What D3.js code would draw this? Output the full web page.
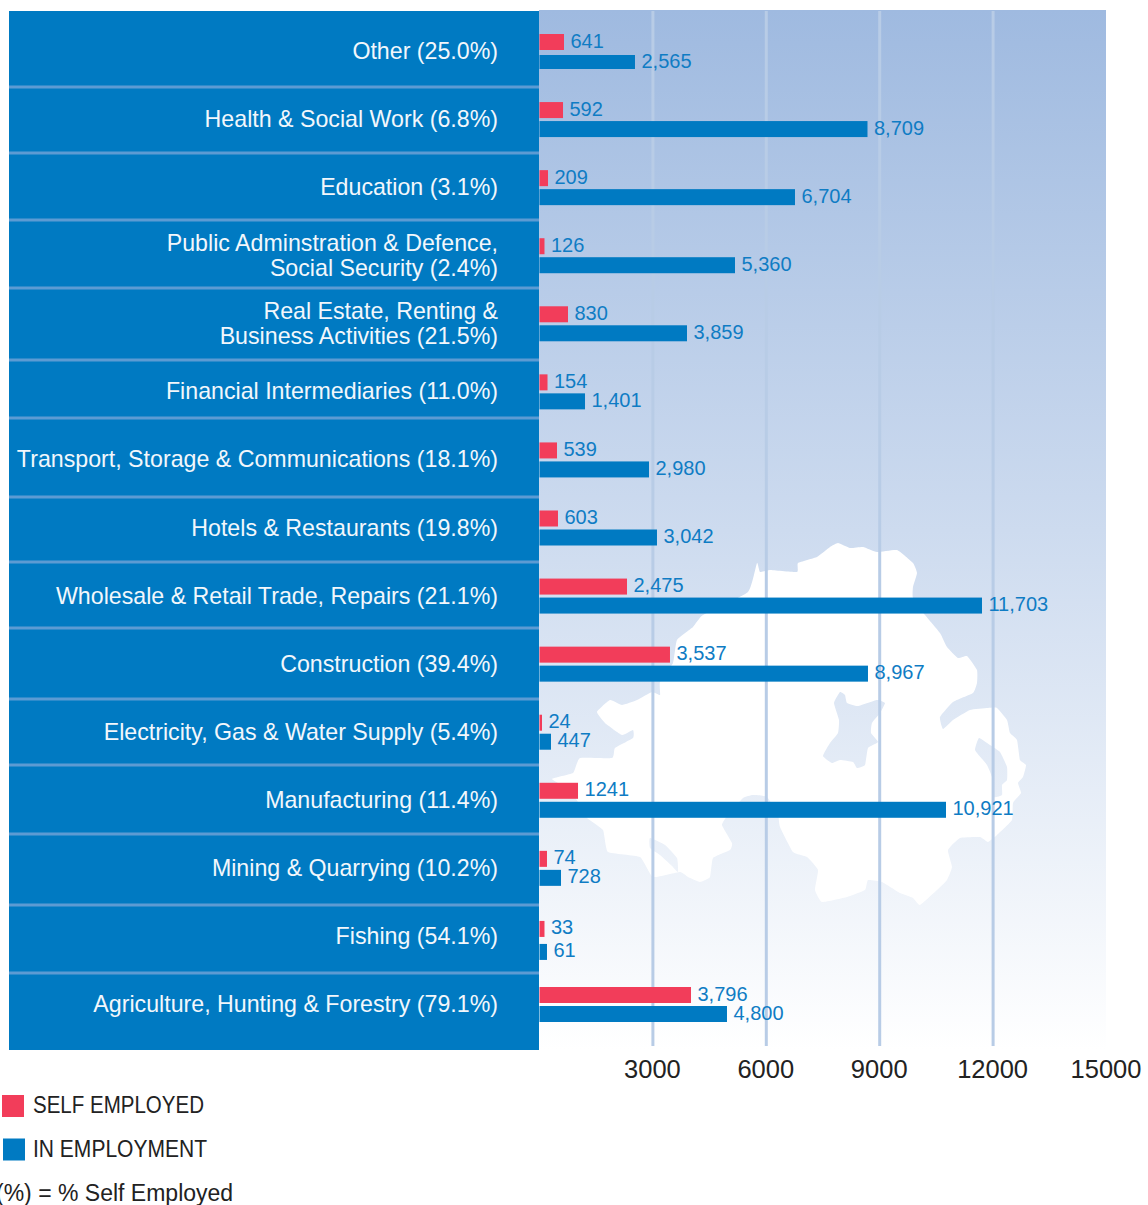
<!DOCTYPE html>
<html lang="en">
<head>
<meta charset="utf-8">
<title>Employment by sector</title>
<script src="https://cdn.jsdelivr.net/npm/d3@7"></script>
<style>
    html, body { margin: 0; padding: 0; background: #fff; }
    svg { display: block; font-family: "Liberation Sans", sans-serif; }
    .tick line { display: none; }
</style>
</head>
<body>
<script>
// top to bottom, as in the chart
var categories = ['Other', 'Health', 'Education', 'Public', 'RealEstate', 'Financial', 'Transport',
    'Hotels', 'Wholesale', 'Construction', 'Electricity', 'Manufacturing', 'Mining', 'Fishing', 'Agriculture'];
var categoryLabels = [
    ['Other (25.0%)'],
    ['Health & Social Work (6.8%)'],
    ['Education (3.1%)'],
    ['Public Adminstration & Defence,', 'Social Security (2.4%)'],
    ['Real Estate, Renting &', 'Business Activities (21.5%)'],
    ['Financial Intermediaries (11.0%)'],
    ['Transport, Storage & Communications (18.1%)'],
    ['Hotels & Restaurants (19.8%)'],
    ['Wholesale & Retail Trade, Repairs (21.1%)'],
    ['Construction (39.4%)'],
    ['Electricity, Gas & Water Supply (5.4%)'],
    ['Manufacturing (11.4%)'],
    ['Mining & Quarrying (10.2%)'],
    ['Fishing (54.1%)'],
    ['Agriculture, Hunting & Forestry (79.1%)']
];
// bar lengths read against the axis, the printed figures do not always agree with them
var selfEmployed = [648, 622, 225, 132, 754, 212, 463, 489, 2315, 3452, 66, 1019, 198, 132, 4008];
var inEmployment = [2526, 8677, 6759, 5172, 3902, 1204, 2897, 3108, 11706, 8690, 304, 10754, 569, 198, 4960];
// figures as printed next to the bars
var selfLabels = ['641', '592', '209', '126', '830', '154', '539', '603', '2,475', '3,537', '24', '1241', '74', '33', '3,796'];
var employedLabels = ['2,565', '8,709', '6,704', '5,360', '3,859', '1,401', '2,980', '3,042', '11,703', '8,967', '447', '10,921', '728', '61', '4,800'];
var xTicks = [3000, 6000, 9000, 12000, 15000];
var legendItems = ['SELF EMPLOYED', 'IN EMPLOYMENT'];
var legendNote = '(%) = % Self Employed';

var width = 1148, height = 1205;
var RED = '#f23d5a', BLUE = '#007ac2';

var x = d3.scaleLinear().domain([0, 15000]).range([539.5, 1106.5]);
var y = d3.scalePoint().domain(categories).range([51, 1004]);

// the row rules in the original are not evenly spaced
var rules = [87, 153, 220, 288, 360, 418, 497, 562, 628, 699, 765, 834, 905, 973];
// bar offsets from the row centre, fishing and the first row sit a bit apart
var redOffset = function (c) { return c === 'Fishing' ? -7 : -9; };
var blueOffset = function (c) { return c === 'Fishing' ? 16 : c === 'Other' ? 11 : 10; };

var svg = d3.select('body').append('svg').attr('width', width).attr('height', height);

var grad = svg.append('defs').append('linearGradient')
    .attr('id', 'sky').attr('x1', 0).attr('x2', 0).attr('y1', 0).attr('y2', 1);
grad.append('stop').attr('offset', 0).attr('stop-color', '#9fbae0');
grad.append('stop').attr('offset', 0.5).attr('stop-color', '#cddbef');
grad.append('stop').attr('offset', 1).attr('stop-color', '#ffffff');

svg.append('rect').attr('x', 539).attr('y', 10).attr('width', 567).attr('height', 1040).attr('fill', 'url(#sky)');

// backdrop map, traced by hand
var coast = [[757, 563], [760, 572], [770, 570], [797, 572], [798, 563], [817, 557], [830, 547], [838, 543], [850, 548],
    [863, 547], [877, 552], [897, 550], [913, 563], [917, 573], [913, 587], [913, 598], [925, 615], [940, 633], [947, 647],
    [958, 658], [967, 656], [977, 670], [977, 683], [973, 693], [953, 702], [940, 717], [943, 729], [953, 720], [970, 710],
    [988, 708], [997, 708], [1007, 720], [1010, 733], [1017, 740], [1020, 760], [1026, 765], [1023, 777], [1018, 783],
    [1021, 793], [1013, 803], [1012, 820], [997, 835], [988, 842], [980, 837], [960, 838], [948, 850], [952, 867], [947, 880],
    [937, 890], [920, 905], [913, 898], [900, 893], [882, 882], [868, 880], [865, 890], [847, 897], [822, 902], [815, 890],
    [818, 870], [807, 857], [793, 852], [780, 827], [778, 815], [767, 797], [753, 795], [743, 798], [728, 815], [722, 825],
    [732, 843], [730, 850], [713, 858], [710, 877], [700, 882], [688, 877], [680, 872], [653, 877], [640, 857], [608, 852],
    [603, 830], [587, 818], [578, 802], [570, 790], [552, 779], [573, 773], [580, 758], [612, 758], [615, 748], [633, 738],
    [633, 730], [622, 735], [605, 723], [597, 712], [610, 700], [622, 705], [637, 700], [652, 692], [660, 695], [660, 682],
    [673, 663], [677, 640], [693, 627], [703, 615], [748, 592]];
var neagh = [[834, 703], [840, 692], [845, 695], [847, 703], [858, 706], [877, 700], [885, 703], [880, 713], [872, 723],
    [871, 733], [878, 742], [868, 748], [865, 765], [857, 768], [853, 762], [840, 760], [832, 763], [823, 756], [830, 743],
    [838, 733], [839, 720]];
var strangford = [[979, 738], [990, 745], [1000, 752], [1007, 767], [1007, 780], [1002, 785], [1002, 795], [993, 797],
    [992, 777], [987, 765], [983, 760], [975, 750]];
var erne = [[650, 838], [665, 845], [677, 858], [678, 872], [672, 866], [660, 855], [650, 848]];
var shape = d3.line().curve(d3.curveCardinalClosed.tension(0.6));
svg.append('path')
    .attr('d', shape(coast) + shape(neagh) + shape(strangford) + shape(erne))
    .attr('fill', '#fff').attr('fill-rule', 'evenodd');

// grid
svg.selectAll('.grid').data(xTicks.slice(0, 4)).enter().append('line')
    .attr('class', 'grid')
    .attr('x1', function (d) { return x(d); }).attr('x2', function (d) { return x(d); })
    .attr('y1', 11).attr('y2', 1046)
    .attr('stroke', '#b8cce6').attr('stroke-width', 3);

// left panel
svg.append('rect').attr('x', 9).attr('y', 11).attr('width', 530).attr('height', 1039).attr('fill', BLUE);
svg.selectAll('.rule').data(rules).enter().append('rect')
    .attr('class', 'rule').attr('x', 9).attr('width', 530).attr('height', 3)
    .attr('y', function (d) { return d - 1.5; })
    .attr('fill', '#5c9bd3');

var labels = svg.selectAll('.cat').data(categories).enter().append('text')
    .attr('class', 'cat')
    .attr('text-anchor', 'end')
    .attr('font-size', 23.2)
    .attr('fill', '#f2f7fc');
labels.each(function (c, i) {
    var lines = categoryLabels[i], t = d3.select(this);
    lines.forEach(function (line, j) {
        t.append('tspan')
            .attr('x', 498)
            .attr('y', y(c) + 8 + (j - (lines.length - 1) / 2) * 25)
            .text(line);
    });
});

function drawSeries(cls, values, texts, color, offset) {
    // top of the first blue bar is cut short in the original
    var barH = function (c) { return cls === 'emp' && c === 'Other' ? 14 : 16; };
    svg.selectAll('.' + cls).data(categories).enter().append('rect')
        .attr('class', cls)
        .attr('x', x(0))
        .attr('y', function (c) { return y(c) + offset(c) - barH(c) / 2; })
        .attr('height', barH)
        .attr('width', function (c, i) { return x(values[i]) - x(0); })
        .attr('fill', color);
    svg.selectAll('.' + cls + '-val').data(categories).enter().append('text')
        .attr('class', cls + '-val')
        .attr('x', function (c, i) { return x(values[i]) + 6.5; })
        .attr('y', function (c) { return y(c) + offset(c) + 5.5; })
        .attr('font-size', 20)
        .attr('fill', '#0f7cc4')
        .text(function (c, i) { return texts[i]; });
}
drawSeries('self', selfEmployed, selfLabels, RED, redOffset);
drawSeries('emp', inEmployment, employedLabels, BLUE, blueOffset);

// axis
var axis = d3.axisBottom(x).tickValues(xTicks).tickSize(0).tickFormat(d3.format('d'));
var gx = svg.append('g').attr('transform', 'translate(0,1050)').call(axis);
gx.select('.domain').remove();
gx.selectAll('text').attr('font-size', 25.5).attr('font-family', '"Liberation Sans", sans-serif').attr('fill', '#222').attr('dy', 25).attr('dx', -1);

// legend
[RED, BLUE].forEach(function (col, i) {
    svg.append('rect').attr('x', 2 + i).attr('y', 1095 + i * 43.5).attr('width', 22).attr('height', 22).attr('fill', col);
    svg.append('text').attr('x', 33).attr('y', 1113 + i * 44).attr('font-size', 23.5).attr('fill', '#222')
        .attr('textLength', i === 0 ? 171 : 174).attr('lengthAdjust', 'spacingAndGlyphs')
        .text(legendItems[i]);
});
// starts off the left edge in the original too
svg.append('text').attr('x', -4).attr('y', 1201).attr('font-size', 23).attr('fill', '#222').text(legendNote);
</script>
</body>
</html>
